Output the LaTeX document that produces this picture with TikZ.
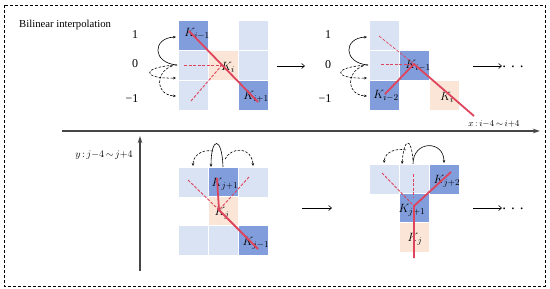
\documentclass[tikz,border=0pt]{standalone}
\usepackage{fontspec}
\setmainfont{Liberation Serif}
\usetikzlibrary{arrows.meta}
\definecolor{dkblue}{RGB}{130,157,220}
\definecolor{ltblue}{RGB}{218,227,243}
\definecolor{peach}{RGB}{251,229,214}
\definecolor{redl}{RGB}{222,68,92}
\definecolor{axisgray}{RGB}{70,70,70}
\begin{document}
\begin{tikzpicture}[x=1pt,y=-1pt,
  cell/.style={rectangle,minimum width=30pt,minimum height=30pt,inner sep=0pt,draw=white,line width=1pt},
  dk/.style={cell,fill=dkblue},
  lt/.style={cell,fill=ltblue},
  pc/.style={cell,fill=peach},
  klab/.style={inner sep=0pt,font=\fontsize{12.5}{13}\selectfont},
  numlab/.style={inner sep=0pt,font=\fontsize{12}{13}\selectfont},
  redsolid/.style={draw=redl,line width=1.8pt},
  reddash/.style={draw=redl,line width=0.9pt,dash pattern=on 3pt off 1.5pt},
  arcline/.style={draw=black,line width=0.6pt,-{Stealth[length=3pt,width=2.5pt]}},
  darcline/.style={arcline,dash pattern=on 2.5pt off 1.5pt},
  nextarrow/.style={draw=black,line width=0.6pt,-{Straight Barb[length=3pt,width=5pt]}},
  axisline/.style={draw=axisgray,line width=1.3pt,-{Stealth[length=7pt,width=4.5pt]}},
  dotslab/.style={inner sep=0pt,font=\fontsize{15}{15}\selectfont}
]
\useasboundingbox (0,0) rectangle (550,289);
\draw[line width=0.8pt,dash pattern=on 3pt off 2pt] (4,5) rectangle (545,286);
\node[anchor=west,inner sep=0pt,font=\fontsize{10.7}{12}\selectfont] (title) at (19,25) {Bilinear interpolation};

% axes
\coordinate (hx0) at (62,131);
\coordinate (hx1) at (540,131);
\draw[axisline] (hx0) -- (hx1);
\coordinate (vy0) at (140,271);
\coordinate (vy1) at (140,136);
\draw[axisline] (vy0) -- (vy1);
\node[inner sep=0pt,font=\fontsize{9}{10}\selectfont] (xlab) at (494,124) {$x\,{:}\,i{-}4\,{\sim}\,i{+}4$};
\node[inner sep=0pt,font=\fontsize{10}{11}\selectfont] (ylab) at (104,155) {$y\,{:}\,j{-}4\,{\sim}\,j{+}4$};

% ---------- panel 1 ----------
\node[dk] (p1a) at (193,35) {};
\node[lt] (p1b) at (193,65) {};
\node[lt] (p1c) at (193,95) {};
\node[pc] (p1d) at (223,65) {};
\node[lt] (p1e) at (253,35) {};
\node[lt] (p1f) at (253,65) {};
\node[dk] (p1g) at (253,95) {};
\node[numlab] (n1a) at (135,35) {1};
\node[numlab] (n1b) at (135,64) {0};
\node[numlab] (n1c) at (132,99) {−1};
\node[klab] (k1a) at (197,34) {$K_{i-1}$};
\node[klab] (k1b) at (228,67) {$K_{i}$};
\node[klab] (k1c) at (256,97) {$K_{i+1}$};
\coordinate (a1o) at (177,65);
\coordinate (a1t) at (176,37);
\coordinate (a1m) at (176,78);
\coordinate (a1s) at (172,66);
\coordinate (a1b) at (176,96);
\draw[arcline] (a1o) .. controls (152,63) and (152,38) .. (a1t);
\draw[darcline] (a1o) .. controls (140,67) and (142,79) .. (a1m);
\draw[darcline] (a1s) .. controls (155,72) and (155,95) .. (a1b);

% ---------- panel 2 ----------
\node[lt] (p2a) at (384,35) {};
\node[lt] (p2b) at (384,65) {};
\node[dk] (p2c) at (384,95) {};
\node[dk] (p2d) at (414,65) {};
\node[pc] (p2e) at (444,95) {};
\node[numlab] (n2a) at (328,35) {1};
\node[numlab] (n2b) at (328,65) {0};
\node[numlab] (n2c) at (325,99) {−1};
\node[klab] (k2a) at (386,96) {$K_{i-2}$};
\node[klab] (k2b) at (418,66) {$K_{i-1}$};
\node[klab] (k2c) at (447,97) {$K_{i}$};
\coordinate (a2o) at (368,65);
\coordinate (a2t) at (367,37);
\coordinate (a2m) at (367,78);
\coordinate (a2s) at (363,66);
\coordinate (a2b) at (367,96);
\draw[arcline] (a2o) .. controls (343,63) and (343,38) .. (a2t);
\draw[darcline] (a2o) .. controls (331,67) and (333,79) .. (a2m);
\draw[darcline] (a2s) .. controls (346,72) and (346,95) .. (a2b);

% ---------- panel 3 ----------
\node[lt] (p3a) at (193,182) {};
\node[dk] (p3b) at (223,182) {};
\node[lt] (p3c) at (253,182) {};
\node[pc] (p3d) at (223,211) {};
\node[lt] (p3e) at (193,240) {};
\node[lt] (p3f) at (223,240) {};
\node[dk] (p3g) at (253,240) {};
\node[klab] (k3a) at (225,184) {$K_{j+1}$};
\node[klab] (k3b) at (222,213) {$K_{j}$};
\node[klab] (k3c) at (256,243) {$K_{j-1}$};
\coordinate (a3o) at (223,167);
\coordinate (a3t) at (211,167);
\coordinate (a3l0) at (213,151);
\coordinate (a3l1) at (193,166);
\coordinate (a3r0) at (225,159);
\coordinate (a3r1) at (253,166);
\draw[arcline] (a3o) .. controls (222,136) and (211,136) .. (a3t);
\draw[darcline] (a3l0) .. controls (200,149) and (193,157) .. (a3l1);
\draw[darcline] (a3r0) .. controls (232,146) and (252,147) .. (a3r1);

% ---------- panel 4 ----------
\node[lt] (p4a) at (384,179) {};
\node[lt] (p4b) at (414,179) {};
\node[dk] (p4c) at (444,179) {};
\node[dk] (p4d) at (414,208) {};
\node[pc] (p4e) at (414,237) {};
\node[klab] (k4a) at (447,181) {$K_{j+2}$};
\node[klab] (k4b) at (412,210) {$K_{j+1}$};
\node[klab] (k4c) at (415,239) {$K_{j}$};
\coordinate (a4o) at (413,164);
\coordinate (a4t) at (444,163);
\coordinate (a4p0) at (413,160);
\coordinate (a4p1) at (402,164);
\coordinate (a4l0) at (406,150);
\coordinate (a4l1) at (384,163);
\draw[arcline] (a4o) .. controls (413,140) and (444,140) .. (a4t);
\draw[darcline] (a4p0) .. controls (411,136) and (404,138) .. (a4p1);
\draw[darcline] (a4l0) .. controls (395,148) and (385,152) .. (a4l1);

% ---------- step arrows ----------
\coordinate (t1a) at (277,66);
\coordinate (t1b) at (305,66);
\coordinate (t2a) at (473,66);
\coordinate (t2b) at (502,66);
\coordinate (b1a) at (302,208);
\coordinate (b1b) at (332,208);
\coordinate (b2a) at (473,208);
\coordinate (b2b) at (502,208);
\draw[nextarrow] (t1a) -- (t1b);
\draw[nextarrow] (t2a) -- (t2b);
\draw[nextarrow] (b1a) -- (b1b);
\draw[nextarrow] (b2a) -- (b2b);
\node[dotslab] (d1) at (513,67) {.\kern5pt.\kern5pt.};
\node[dotslab] (d2) at (513,209) {.\kern5pt.\kern5pt.};

% ---------- red lines ----------
\coordinate (r1s) at (189,31);
\coordinate (r1e) at (258,102);
\coordinate (r1c) at (222,65);
\coordinate (r1h) at (184,65);
\coordinate (r1d) at (191,101);
\draw[reddash] (r1h) -- (r1c);
\draw[reddash] (r1d) -- (r1c);
\draw[redsolid] (r1s) -- (r1e);

\coordinate (r2c) at (414,64);
\coordinate (r2t) at (379,36);
\coordinate (r2h) at (381,64);
\coordinate (r2s) at (385,94);
\coordinate (r2e) at (474,116);
\draw[reddash,line width=0.7pt] (r2t) -- (r2c);
\draw[reddash] (r2h) -- (r2c);
\draw[redsolid] (r2s) -- (r2c) -- (r2e);

\coordinate (r3c) at (219,210);
\coordinate (r3t) at (217,178);
\coordinate (r3e) at (258,249);
\coordinate (r3l) at (188,180);
\coordinate (r3r) at (249,177);
\draw[reddash] (r3l) -- (r3c);
\draw[reddash] (r3r) -- (r3c);
\draw[redsolid] (r3t) -- (r3c) -- (r3e);

\coordinate (r4c) at (414,206);
\coordinate (r4b) at (414,258);
\coordinate (r4r) at (451,172);
\coordinate (r4l) at (382,173);
\coordinate (r4v0) at (413,174);
\coordinate (r4v1) at (413,197);
\draw[reddash] (r4l) -- (r4c);
\draw[reddash] (r4v0) -- (r4v1);
\draw[redsolid] (r4b) -- (r4c) -- (r4r);
\end{tikzpicture}
\end{document}
